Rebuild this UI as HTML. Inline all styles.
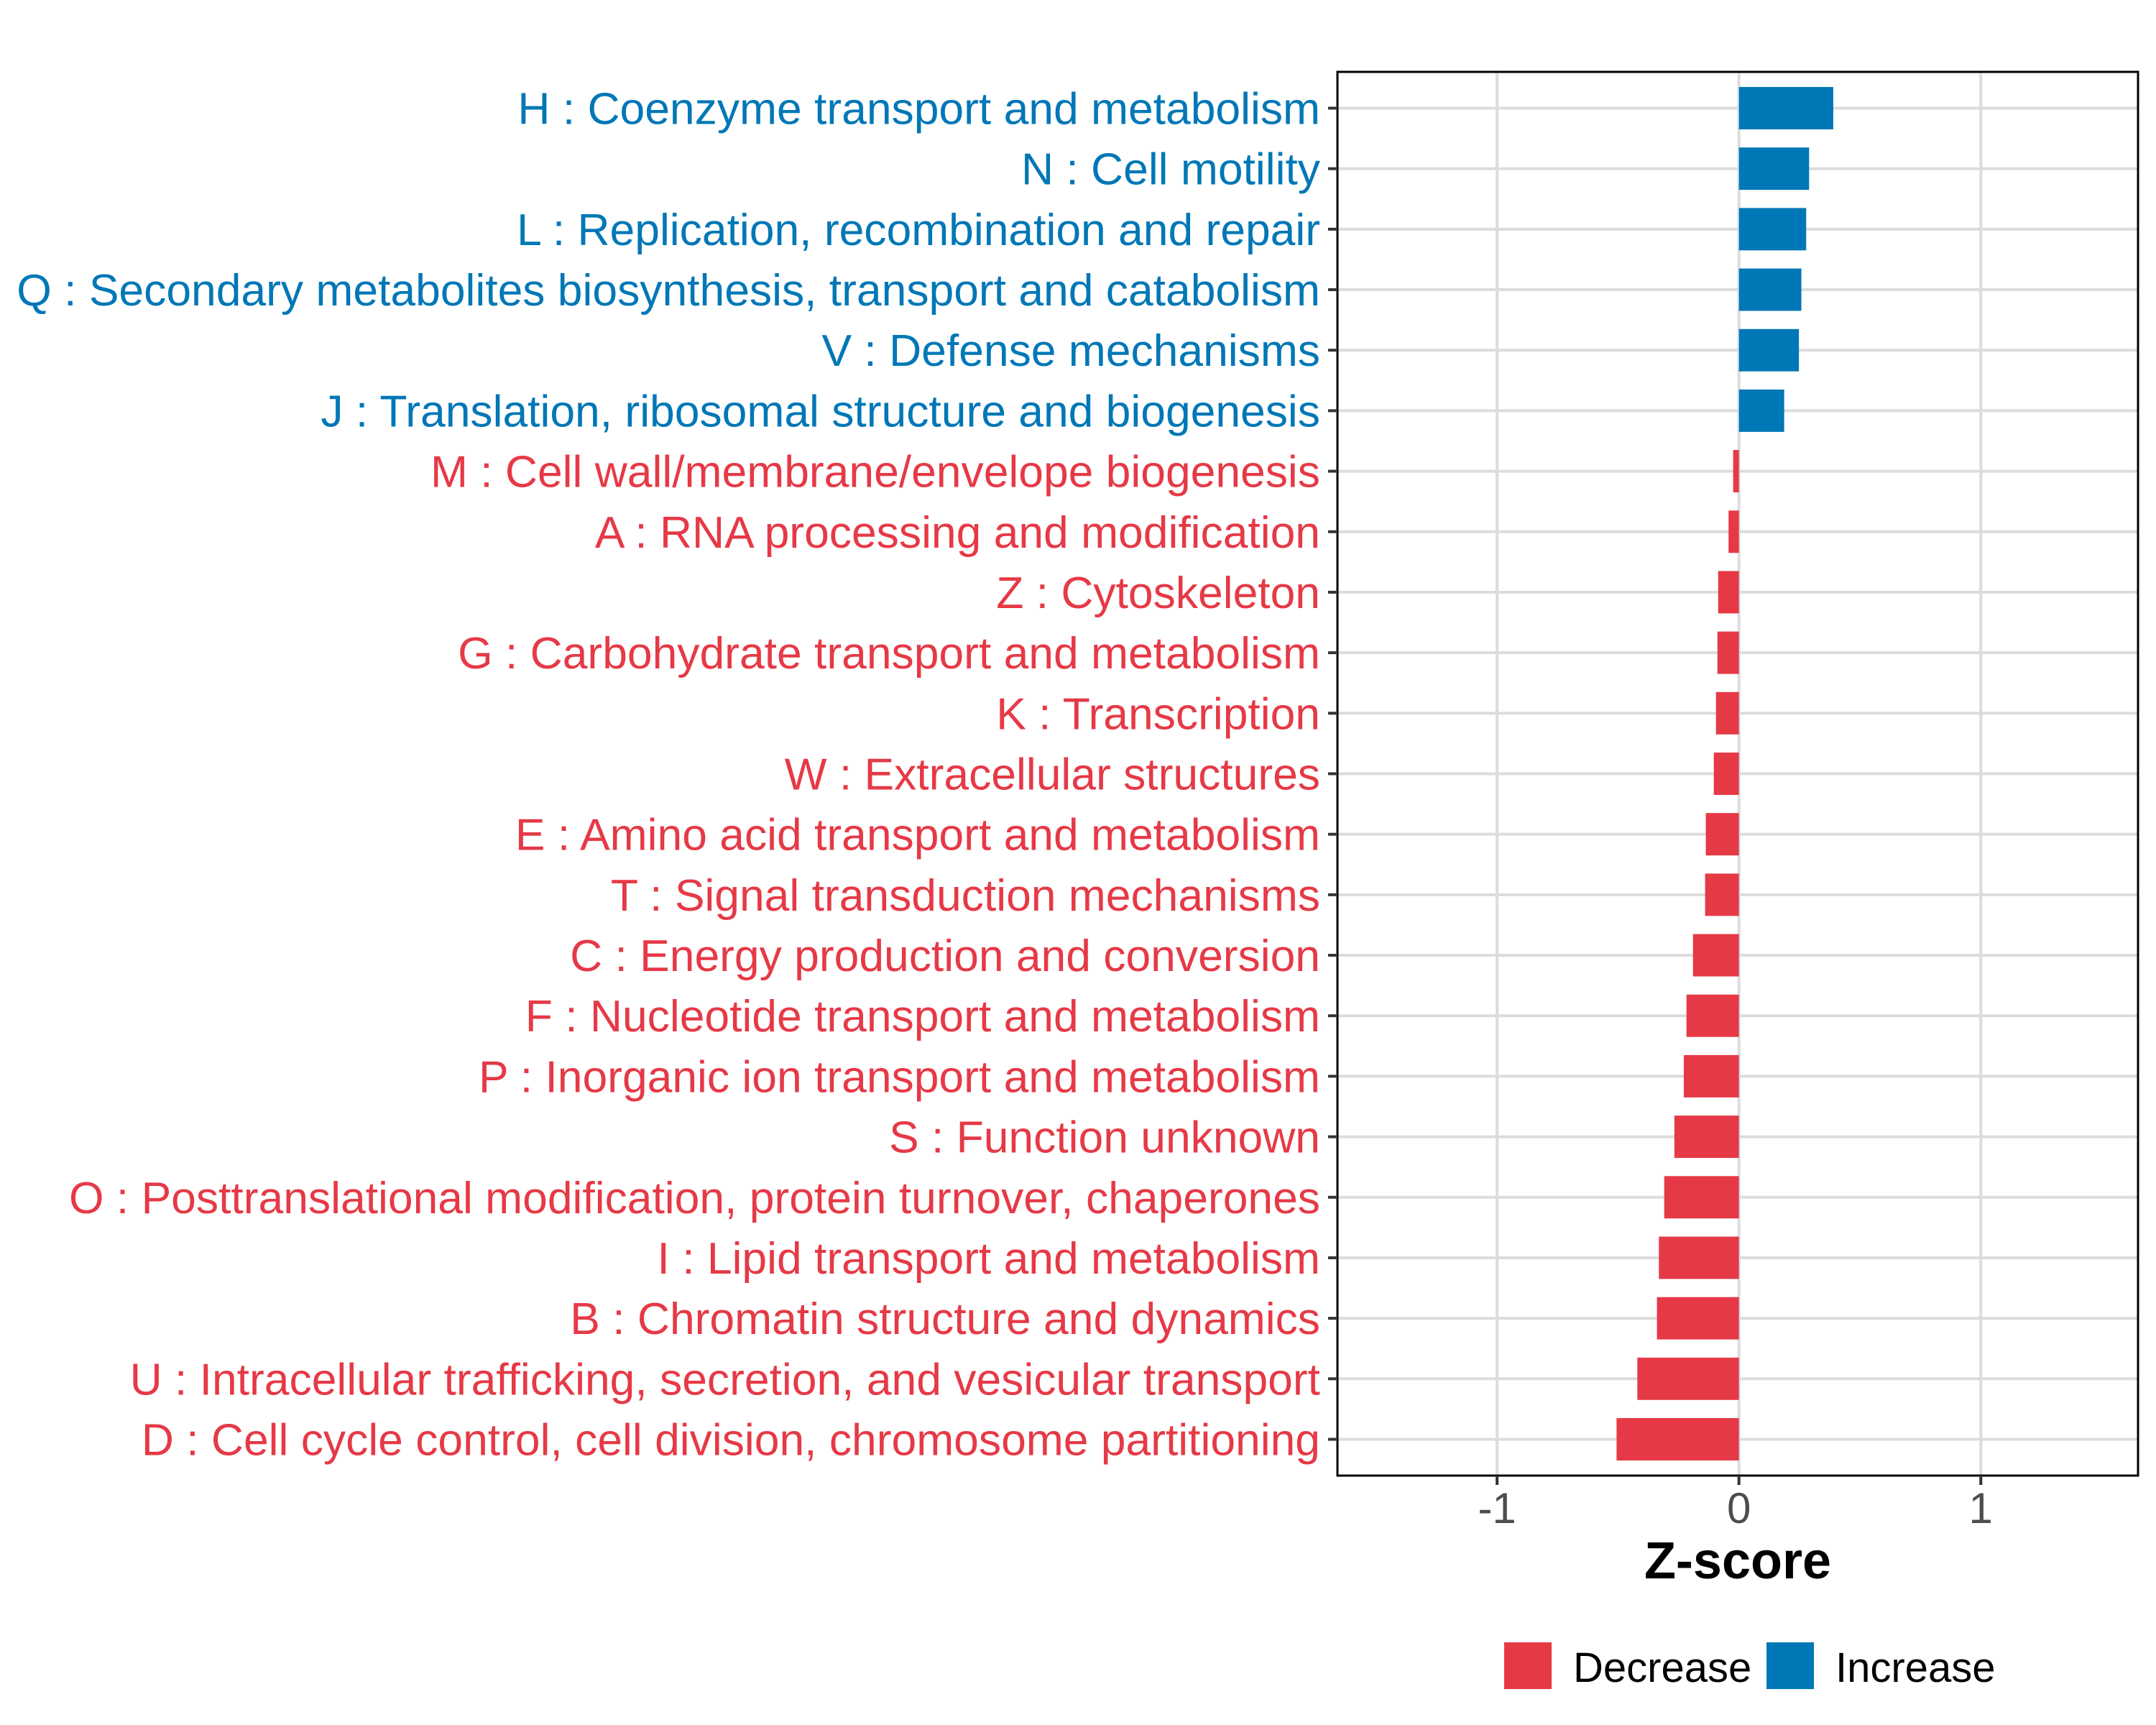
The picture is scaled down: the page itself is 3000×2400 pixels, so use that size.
<!DOCTYPE html>
<html><head><meta charset="utf-8"><style>
html,body{margin:0;padding:0;background:#fff}
svg{display:block}
text{font-family:"Liberation Sans",Arial,sans-serif}
</style></head><body>
<svg id="chart" width="3000" height="2400" viewBox="0 0 3000 2400" xmlns="http://www.w3.org/2000/svg">
<rect x="0" y="0" width="3000" height="2400" fill="#fff"/>
<g id="grid"></g>
<g id="bars"></g>
<rect x="1861" y="100" width="1114" height="1953" fill="none" stroke="#000" stroke-width="3"/>
<g id="yaxis"></g>
<g id="xaxis"></g>
<text x="2418" y="2196" text-anchor="middle" font-size="72" font-weight="bold" fill="#000">Z-score</text>
<g>
<rect x="2093" y="2285" width="66" height="65" fill="#E63946"/>
<text x="2189" y="2340" font-size="58" fill="#000">Decrease</text>
<rect x="2458" y="2285" width="66" height="65" fill="#0077B6"/>
<text x="2554" y="2340" font-size="58" fill="#000">Increase</text>
</g>
</svg>
<script>
const categories = [
"H : Coenzyme transport and metabolism",
"N : Cell motility",
"L : Replication, recombination and repair",
"Q : Secondary metabolites biosynthesis, transport and catabolism",
"V : Defense mechanisms",
"J : Translation, ribosomal structure and biogenesis",
"M : Cell wall/membrane/envelope biogenesis",
"A : RNA processing and modification",
"Z : Cytoskeleton",
"G : Carbohydrate transport and metabolism",
"K : Transcription",
"W : Extracellular structures",
"E : Amino acid transport and metabolism",
"T : Signal transduction mechanisms",
"C : Energy production and conversion",
"F : Nucleotide transport and metabolism",
"P : Inorganic ion transport and metabolism",
"S : Function unknown",
"O : Posttranslational modification, protein turnover, chaperones",
"I : Lipid transport and metabolism",
"B : Chromatin structure and dynamics",
"U : Intracellular trafficking, secretion, and vesicular transport",
"D : Cell cycle control, cell division, chromosome partitioning"
];
const zscores = [0.39,0.29,0.278,0.258,0.248,0.187,-0.024,-0.043,-0.086,-0.089,-0.095,-0.104,-0.137,-0.140,-0.19,-0.217,-0.228,-0.267,-0.309,-0.331,-0.339,-0.42,-0.506];
const xTicks = [-1,0,1];
const xTickLabels = ["-1","0","1"];

const NS = "http://www.w3.org/2000/svg";
const X0 = 1861, X1 = 2975, XMIN = -1.66, XMAX = 1.65;
const Y0 = 100, Y1 = 2053;
function xs(v){ return X0 + (v - XMIN) / (XMAX - XMIN) * (X1 - X0); }
const step = (Y1 - Y0) / (categories.length + 0.2);
function ys(i){ return Y0 + step * 0.6 + i * step; }
function mk(tag, attrs, parent){
  const e = document.createElementNS(NS, tag);
  for (const k in attrs) e.setAttribute(k, attrs[k]);
  parent.appendChild(e);
  return e;
}
const grid = document.getElementById('grid');
const bars = document.getElementById('bars');
const yaxis = document.getElementById('yaxis');
const xaxis = document.getElementById('xaxis');
const RED = "#E63946", BLUE = "#0077B6";

xTicks.forEach((t, i) => {
  const gx = mk('line', {x1: xs(t), x2: xs(t), y1: Y0, y2: Y1, stroke: '#dcdcdc', 'stroke-width': 4}, grid);
  
  
  const tk = mk('line', {x1: xs(t), x2: xs(t), y1: Y1, y2: Y1 + 13, stroke: '#333', 'stroke-width': 4}, xaxis);
  
  
  const tl = mk('text', {x: xs(t), y: 2119, 'text-anchor': 'middle', 'font-size': 60, fill: '#4d4d4d'}, xaxis);
  tl.textContent = xTickLabels[i];
  
  
});

categories.forEach((c, i) => {
  const y = ys(i);
  const gl = mk('line', {x1: X0, x2: X1, y1: y, y2: y, stroke: '#dcdcdc', 'stroke-width': 4}, grid);
  
  
  const v = zscores[i];
  const col = v >= 0 ? BLUE : RED;
  const bh = step * 0.7;
  const bx = Math.min(xs(0), xs(v));
  const b = mk('rect', {x: bx, y: y - bh / 2, width: Math.abs(xs(v) - xs(0)), height: bh, fill: col}, bars);
  
  
  const tk = mk('line', {x1: X0 - 13, x2: X0, y1: y, y2: y, stroke: '#333', 'stroke-width': 4}, yaxis);
  
  
  const tl = mk('text', {x: 1837, y: y + 22, 'text-anchor': 'end', 'font-size': 62.4, fill: col}, yaxis);
  tl.textContent = c;
  
  
});
</script>
</body></html>
